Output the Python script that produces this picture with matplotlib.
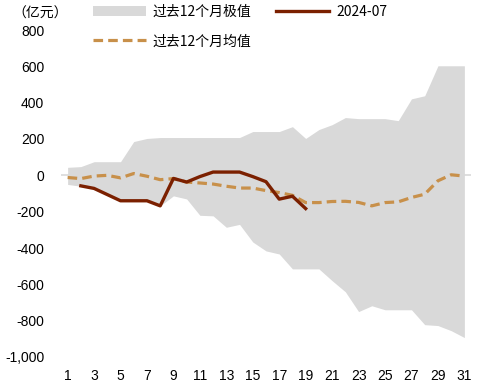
import numpy as np
import matplotlib
matplotlib.use("Agg")
import matplotlib.pyplot as plt
from matplotlib.ticker import FuncFormatter

plt.rcParams['font.family'] = ['Liberation Sans', 'Noto Sans CJK SC', 'DejaVu Sans']

days = list(range(1, 32))
band_upper = [44, 48, 75, 75, 75, 186, 203, 208, 208, 208, 208, 208, 208, 208,
              241, 241, 241, 268, 203, 252, 279, 318, 312, 312, 312, 301, 421,
              438, 603, 603, 603]
band_lower = [-50, -60, -74, -108, -142, -142, -142, -168, -113, -130, -220, -223,
              -286, -270, -367, -416, -433, -515, -515, -515, -580, -641, -750,
              -718, -740, -740, -740, -822, -827, -855, -893]
cur_days = list(range(1, 20))
cur_vals = [np.nan, -58, -72, -106, -140, -140, -140, -168, -17, -37, -7, 18, 18, 18,
            -7, -35, -131, -115, -183]
mean_vals = [-12, -18, -4, 0, -14, 10, -5, -24, -18, -37, -42, -48, -60, -70, -70,
             -84, -95, -110, -150, -150, -144, -143, -149, -168, -150, -146, -122,
             -104, -30, 3, -4]

xticks = list(range(1, 32, 2))
yticks = list(range(-1000, 801, 200))

fig = plt.figure(figsize=(4.85, 3.87), dpi=100)
ax = fig.add_axes([61/485, 1-357/387, (471-61)/485, (357-30)/387])

band_color = '#D9D9D9'
red_color = '#7B2000'
mean_color = '#C8904A'

ax.axhline(0, color=band_color, lw=1.2, zorder=1)
ax.fill_between(days, band_lower, band_upper, color=band_color, lw=0, zorder=2,
                label='过去12个月极值')
ax.plot(days, mean_vals, color=mean_color, lw=2.3, dashes=(3.0, 1.6), zorder=3,
        label='过去12个月均值')
ax.plot(cur_days, cur_vals, color=red_color, lw=2.4, zorder=4, label='2024-07')

ax.set_xlim(0.5, 31.5)
ax.set_ylim(-1000, 800)
ax.set_xticks(xticks)
ax.set_yticks(yticks)
ax.yaxis.set_major_formatter(FuncFormatter(lambda v, p: f"{int(v):,}"))
ax.tick_params(axis='both', length=0, labelsize=10)
ax.tick_params(axis='y', pad=12)
ax.tick_params(axis='x', pad=9)
for s in ax.spines.values():
    s.set_visible(False)

fig.text(12/485, 1-14/387, '（亿元）', fontsize=10, va='center', ha='left',
         family=['Noto Sans CJK SC', 'DejaVu Sans'])

h, l = ax.get_legend_handles_labels()
handles = [h[l.index('过去12个月极值')], h[l.index('过去12个月均值')], h[l.index('2024-07')]]
labels = ['过去12个月极值', '过去12个月均值', '2024-07']
leg = fig.legend(handles, labels, ncol=2, loc='upper left',
                 bbox_to_anchor=(93/485, 1-5/387), frameon=False, fontsize=10,
                 borderpad=0, borderaxespad=0, handlelength=3.8, handletextpad=0.5,
                 columnspacing=1.8, labelspacing=1.1,
                 prop={'family': ['Noto Sans CJK SC', 'DejaVu Sans'], 'size': 10})

fig.savefig('out.png', dpi=100)
